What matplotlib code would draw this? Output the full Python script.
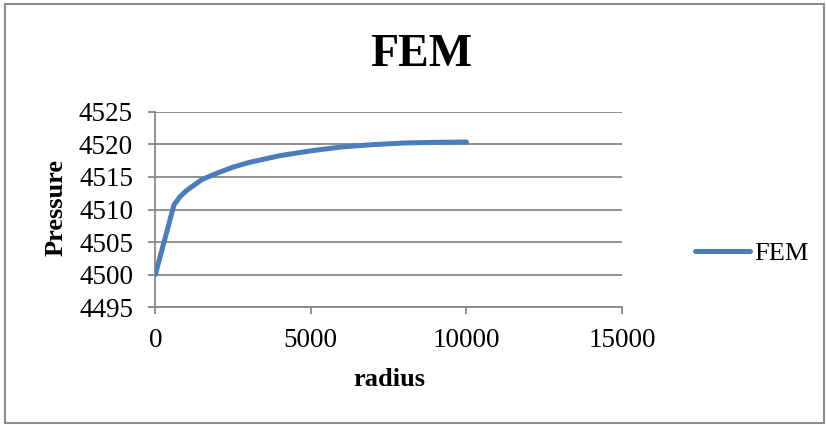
import matplotlib.pyplot as plt
from matplotlib.patches import Rectangle

# values
radius = [0, 600, 800, 1000, 1500, 2000, 2500, 3000, 4000, 5000, 6000, 7000, 8000, 9000, 10000]
pressure = [4500.0, 4510.7, 4512.0, 4512.9, 4514.6, 4515.6, 4516.5, 4517.2, 4518.25,
            4519.0, 4519.6, 4519.95, 4520.2, 4520.3, 4520.35]
x_ticks = [0, 5000, 10000, 15000]
y_ticks = [4495, 4500, 4505, 4510, 4515, 4520, 4525]

plt.rcParams["font.family"] = ["Liberation Serif", "DejaVu Serif"]
line_color = "#4a7ebb"
grid_color = "#888888"

fig = plt.figure(figsize=(8.26, 4.25), dpi=100)
fig.patches.append(Rectangle((5 / 826, 2 / 425), 819 / 826, 419 / 425,
                             transform=fig.transFigure, fill=False,
                             edgecolor="#8c8c8c", linewidth=1.5))

ax = fig.add_axes([155.3 / 826, 1 - 307.3 / 425, 466.7 / 826, 195.6 / 425])
ax.plot(radius, pressure, color=line_color, linewidth=3.6,
        solid_capstyle="round", solid_joinstyle="round", label="FEM", zorder=3)

ax.set_xlim(0, 15000)
ax.set_ylim(4495, 4525)
ax.set_xticks(x_ticks)
ax.set_yticks(y_ticks)
ax.yaxis.grid(True, color=grid_color, linewidth=1.3)
ax.set_axisbelow(True)
for side in ("top", "right"):
    ax.spines[side].set_visible(False)
for side in ("left", "bottom"):
    ax.spines[side].set_color(grid_color)
    ax.spines[side].set_linewidth(1.3)
ax.tick_params(axis="both", direction="out", length=5, width=1.3,
               color=grid_color, labelsize=19.5)
ax.tick_params(axis="y", pad=11)
ax.tick_params(axis="x", pad=10)

fig.text(389 / 826, 1 - 380 / 425, "radius", fontsize=19, fontweight="bold",
         ha="center", va="center")
fig.text(56 / 826, 1 - 208 / 425, "Pressure", fontsize=19, fontweight="bold",
         rotation=90, ha="center", va="center")
fig.text(421 / 826, 1 - 55 / 425, "FEM", fontsize=33, fontweight="bold",
         ha="center", va="center")

ax.legend(loc="center left", bbox_to_anchor=(695 / 826, 1 - 253 / 425),
          bbox_transform=fig.transFigure, frameon=False, borderpad=0,
          borderaxespad=0, fontsize=19, handlelength=2.08, handletextpad=0.15)

fig.savefig("out.png", dpi=100)
plt.close(fig)
